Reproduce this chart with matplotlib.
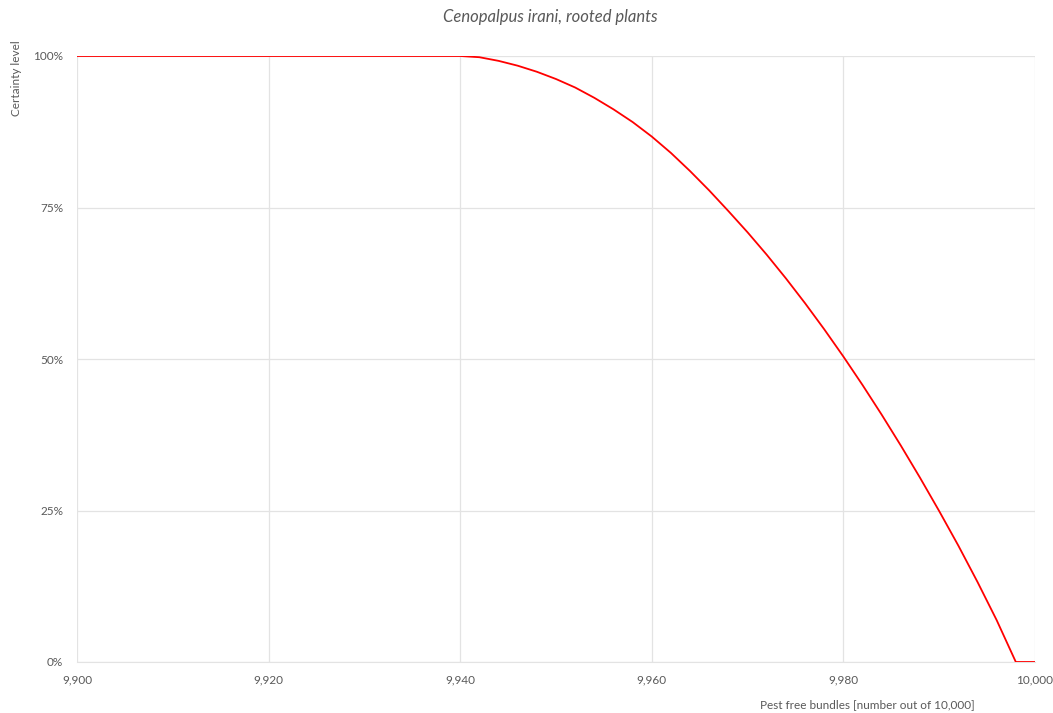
import matplotlib
matplotlib.use("Agg")
import matplotlib.pyplot as plt
from matplotlib.ticker import FuncFormatter, MultipleLocator

plt.rcParams['font.family'] = ['Lato', 'DejaVu Sans']

title = "Cenopalpus irani, rooted plants"
x_label = "Pest free bundles [number out of 10,000]"
y_label = "Certainty level"

bundles = [9900, 9940, 9942, 9944, 9946, 9948, 9950, 9952, 9954, 9956, 9958,
           9960, 9962, 9964, 9966, 9968, 9970, 9972, 9974, 9976, 9978,
           9980, 9982, 9984, 9986, 9988, 9990, 9992, 9994, 9996, 9998, 10000]
certainty = [100, 100, 99.8, 99.2, 98.4, 97.4, 96.2, 94.8, 93.1, 91.2, 89.1,
             86.7, 84.0, 81.0, 77.8, 74.4, 70.9, 67.2, 63.3, 59.2, 54.9,
             50.4, 45.7, 40.8, 35.7, 30.4, 24.9, 19.2, 13.2, 6.9, 0.0, 0.0]

fig = plt.figure(figsize=(10.53, 7.13), dpi=100)
ax = fig.add_axes([77/1053, 1-662/713, (1035-77)/1053, (662-56)/713])

ax.plot(bundles, [c/100 for c in certainty], color='#ff0000', lw=1.3, zorder=3)

ax.set_xlim(9900, 10000)
ax.set_ylim(0, 1)
ax.xaxis.set_major_locator(MultipleLocator(20))
ax.yaxis.set_major_locator(MultipleLocator(0.25))
ax.xaxis.set_major_formatter(FuncFormatter(lambda v, p: f"{int(round(v)):,}"))
ax.yaxis.set_major_formatter(FuncFormatter(lambda v, p: f"{int(round(v*100))}%"))
ax.grid(True, color='#e3e3e3', lw=0.9)
ax.set_axisbelow(True)
for s in ['top', 'right', 'left']:
    ax.spines[s].set_visible(False)
ax.spines['bottom'].set_color('#e3e3e3')
ax.tick_params(axis='both', length=0, labelsize=8.5, labelcolor='#595959')
ax.tick_params(axis='x', pad=9)
ax.tick_params(axis='y', pad=10)

fig.text(550/1053, 1-17/713, title, ha='center', va='center', fontsize=12,
         style='italic', color='#595959')
fig.text(975/1053, 1-705/713, x_label, ha='right', va='center', fontsize=8.5,
         color='#595959')
fig.text(17/1053, 1-40/713, y_label, ha='center', va='top', rotation=90,
         fontsize=8.5, color='#595959')

fig.savefig("out.png", dpi=100)
